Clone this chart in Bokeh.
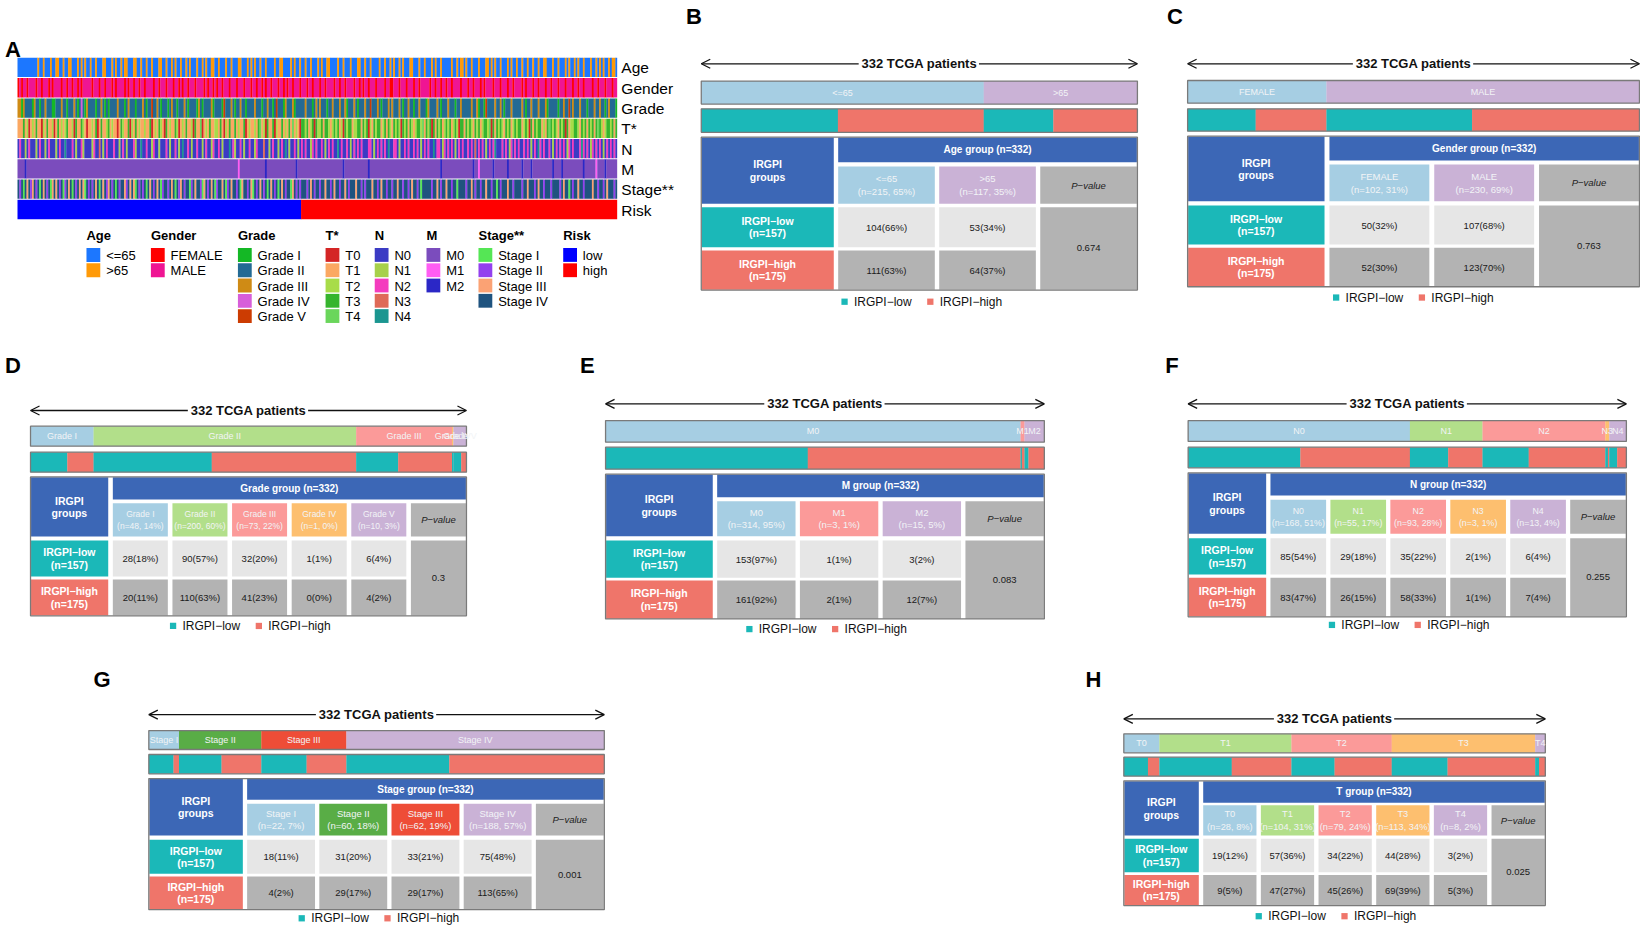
from bokeh.plotting import figure
from bokeh.models import Range1d, Arrow, OpenHead, ColumnDataSource
from bokeh.embed import file_html
from bokeh.resources import INLINE
from bokeh.core.properties import value

# ------------------------------------------------------------------ data
N_LOW, N_HIGH = 157, 175

age_levels = ["<=65", ">65"]
gender_levels = ["FEMALE", "MALE"]
grade_levels = ["Grade I", "Grade II", "Grade III", "Grade IV", "Grade V"]
t_levels = ["T0", "T1", "T2", "T3", "T4"]
n_levels = ["N0", "N1", "N2", "N3", "N4"]
m_levels = ["M0", "M1", "M2"]
stage_levels = ["Stage I", "Stage II", "Stage III", "Stage IV"]
risk_levels = ["low", "high"]

age_low, age_high, age_p = [104, 53], [111, 64], "0.674"
gender_low, gender_high, gender_p = [50, 107], [52, 123], "0.763"
grade_low, grade_high, grade_p = [28, 90, 32, 1, 6], [20, 110, 41, 0, 4], "0.3"
m_low, m_high, m_p = [153, 1, 3], [161, 2, 12], "0.083"
n_low, n_high, n_p = [85, 29, 35, 2, 6], [83, 26, 58, 1, 7], "0.255"
stage_low, stage_high, stage_p = [18, 31, 33, 75], [4, 29, 29, 113], "0.001"
t_low, t_high, t_p = [19, 57, 34, 44, 3], [9, 47, 45, 69, 5], "0.025"

# per-patient category codes (index into levels), low-risk patients then high-risk
age_codes = "".join([
    "0000000000", "0100100010", "0110010011", "0001010100", "1001000110", "0010100101",
    "1000110010", "0100100011", "0010010100", "1001010001", "0010100110", "0100010010",
    "0011000101", "0100100100", "0010011000", "0101001",
    "0010010001", "0100110000", "1001000100", "0110010010", "0001001001", "0100101000",
    "1100010010", "0010100100", "0001001011", "0100100010", "0011010100", "1000101001",
    "0010010010", "0100110001", "0010001010", "0101001000", "1001010100", "10110"])
gender_codes = "".join([
    "0101101111", "0110111010", "1111011011", "0110101111", "1011101101", "1101011110",
    "1011011011", "0111101101", "1101110110", "1011011101", "1110101101", "0110111011",
    "1011101110", "1101101011", "0111011010", "1101110",
    "1110110111", "0110111101", "1011011110", "1101011011", "1011110110", "0111011101",
    "1101101111", "1011011011", "0110111101", "1101101110", "1011110111", "0111011011",
    "1101011101", "1011101101", "1101110111", "0110110111", "1011011101", "11011"])
grade_codes = "".join([
    "2202111102", "1101121110", "0111211011", "1210131021", "1110112101", "0111121110",
    "1211101112", "1011411210", "1110121101", "1121011110", "2101111201", "1110411121",
    "0112110111", "1211101121", "1014111021", "1120111",
    "1121110121", "2111011211", "1211201112", "1011121141", "1121011121", "2111210112",
    "1101121110", "2111121011", "1211101121", "1111211201", "1041111211", "2101112111",
    "1121011211", "1211120111", "1101121141", "2111211101", "1121121101", "21110"])
t_codes = "".join([
    "1113120121", "3110213112", "0131212311", "2031132101", "1213013112", "3121101321",
    "1302131211", "2113012132", "1031211320", "1213112031", "1401213112", "2131021311",
    "3121130121", "1213412031", "1302113121", "3141210",
    "3323123032", "2313321232", "3120323312", "2331323021", "3233123132", "1323203231",
    "3212332413", "2303132312", "3231232033", "1323213231", "2332403132", "3213231232",
    "3312320313", "2331213432", "3213230312", "2332132313", "2313432123", "32313"])
n_codes = "".join([
    "0200102000", "1020010200", "0102004000", "2010021000", "0120030102", "0002001020",
    "1000210040", "0200120010", "0020100201", "0400201002", "0010200120", "0201000402",
    "1002010020", "0120003001", "0200102040", "1002010",
    "2020012020", "0201020200", "4020020102", "0202000220", "1020202040", "0220100202",
    "0020201020", "2004022012", "0202010202", "0020203020", "2010202400", "0202012020",
    "2002020102", "0420200201", "0202020120", "2000242020", "1202020102", "02020"])
m_codes = "".join([
    "0000200000", "0000000000", "0000000000", "0000000000", "0000000000", "0000000000",
    "0000000000", "0000000000", "0000000000", "0000000000", "0000000000", "0000000000",
    "0010000000", "0000000200", "0000000000", "0000200",
    "0000000000", "0000000000", "0002000000", "0000000200", "0000000000", "0000000000",
    "0000000000", "0000000200", "0000000000", "0000020010", "0000002000", "0000200000",
    "0020000200", "0000000002", "0000200000", "0000002000", "0001000020", "00000"])
stage_codes = "".join([
    "3130323123", "1303231302", "3231301323", "0313232031", "3132303231", "2313031332",
    "1323203131", "3032313230", "1331323031", "2313301323", "3102313230", "1332301323",
    "3130233132", "0313231303", "2313032313", "3023131",
    "3331323133", "1332331323", "3133231333", "2331313332", "3313233133", "1332331331",
    "3233130333", "3313323133", "2331330333", "3133231331", "3323313303", "1333233133",
    "3313323331", "3233133313", "3331323303", "1332331333", "3233133132", "33313"])
risk_codes = "0" * N_LOW + "1" * N_HIGH

# ------------------------------------------------------------------ style
FONT = "Liberation Sans"
TEAL, SALMON, BLUE = "#1bb8b8", "#ef756a", "#3c67b6"
LGRAY, DGRAY = "#e6e6e6", "#b3b3b3"
LIGHT = "#f2f4f6"
BORDER = "#7a7a7a"
PAL5 = ["#a6cee3", "#b2df8a", "#fb9a99", "#fdbf6f", "#cab2d6"]
PAL2 = ["#a6cee3", "#cab2d6"]
PAL3 = ["#a6cee3", "#fb9a99", "#cab2d6"]
PAL4S = ["#a6cee3", "#59ad46", "#ee4d37", "#cab2d6"]

age_cols = ["#1c77ff", "#ff9a08"]
gender_cols = ["#ff0000", "#ef1593"]
grade_cols = ["#14b825", "#236a94", "#cf8b15", "#d75ed9", "#cc3c02"]
t_cols = ["#d42525", "#fba862", "#a8dc49", "#36b52e", "#6ad65b"]
n_cols = ["#3b3bc4", "#a7d04b", "#f43cbe", "#df6a57", "#1b9690"]
m_cols = ["#7b4cbd", "#ff5df3", "#2b27c6"]
stage_cols = ["#55e655", "#9340ee", "#fba274", "#1f537f"]
risk_cols = ["#0000ff", "#ff0000"]

S = 1640 / 1568.0
p = figure(width=1640, height=926, x_range=Range1d(0, 1640 / S),
           y_range=Range1d(926 / S, 0), x_axis_type=None, y_axis_type=None,
           toolbar_location=None, output_backend="svg", min_border=0)
p.outline_line_color = None
p.background_fill_color = "white"
p.border_fill_color = "white"

fills = dict(left=[], right=[], top=[], bottom=[], color=[])
outl = dict(left=[], right=[], top=[], bottom=[])
texts = {}
arrows = []


def R(l, r, t, b, c):
    fills["left"].append(l); fills["right"].append(r)
    fills["top"].append(t); fills["bottom"].append(b); fills["color"].append(c)


def O(l, r, t, b):
    outl["left"].append(l); outl["right"].append(r)
    outl["top"].append(t); outl["bottom"].append(b)


def T(x, y, s, size, color="#111111", style="normal", align="center"):
    key = (size, color, style, align)
    d = texts.setdefault(key, ([], [], []))
    d[0].append(x); d[1].append(y); d[2].append(s)


def pct(a, b):
    return int(round(100.0 * a / b))


# ------------------------------------------------------------------ panel A
HX0, HX1 = 16.25, 589.6
HY0, HP, HH = 54.8, 19.4, 18.45
hrows = [("Age", age_codes, age_cols), ("Gender", gender_codes, gender_cols),
         ("Grade", grade_codes, grade_cols), ("T*", t_codes, t_cols),
         ("N", n_codes, n_cols), ("M", m_codes, m_cols),
         ("Stage**", stage_codes, stage_cols), ("Risk", risk_codes, risk_cols)]
for i, (lab, codes, cols) in enumerate(hrows):
    n = len(codes)
    w = (HX1 - HX0) / n
    top = HY0 + i * HP
    bot = top + HH
    j = 0
    while j < n:
        k = j
        while k < n and codes[k] == codes[j]:
            k += 1
        R(HX0 + j * w, min(HX0 + k * w + 0.25, HX1), top, bot, cols[int(codes[j])])
        j = k
    T(HX1 + 4, top + HH / 2 + 0.5, lab, "15.5px", "#000000", align="left")

legend_groups = [("Age", 82.2, age_levels, age_cols),
                 ("Gender", 143.8, gender_levels, gender_cols),
                 ("Grade", 227.0, grade_levels, grade_cols),
                 ("T*", 310.8, t_levels, t_cols),
                 ("N", 357.8, n_levels, n_cols),
                 ("M", 407.3, m_levels, m_cols),
                 ("Stage**", 457.0, stage_levels, stage_cols),
                 ("Risk", 538.0, risk_levels, risk_cols)]
for title, lx, levels, cols in legend_groups:
    T(lx, 224.7, title, "13px", "#000000", "bold", "left")
    for k, (lev, c) in enumerate(zip(levels, cols)):
        yc = 243.3 + 14.6 * k
        R(lx, lx + 13.2, yc - 6.6, yc + 6.6, c)
        T(lx + 18.8, yc + 0.5, lev, "13px", "#000000", align="left")


# ------------------------------------------------------------------ panels B-H
def panel(cfg, name, cats, low, high, pval, colors):
    x0, x1 = cfg["x"]
    nlo, nhi = sum(low), sum(high)
    tot = nlo + nhi
    W = x1 - x0
    cx = (x0 + x1) / 2
    ya = cfg["ya"]
    arrows.append((cx - 58, x0, ya))
    arrows.append((cx + 57, x1, ya))
    T(cx, ya, f"{tot} TCGA patients", "13px", "#111111", "bold")
    fb = cfg.get("fb", "9px")
    fh = cfg.get("fh", "9.5px")
    fd = cfg.get("fd", "9.5px")
    # bar of categories
    t, b = cfg["b1"]
    xs = x0
    for c, lo, hi, col in zip(cats, low, high, colors):
        w = W * (lo + hi) / tot
        R(xs, xs + w + 0.2, t, b, col)
        T(xs + w / 2, (t + b) / 2, c, fb, LIGHT)
        xs += w
    O(x0, x1, t, b)
    # bar of risk groups within categories
    t, b = cfg["b2"]
    xs = x0
    for lo, hi in zip(low, high):
        w1 = W * lo / tot
        w2 = W * hi / tot
        R(xs, xs + w1 + 0.2, t, b, TEAL)
        R(xs + w1, xs + w1 + w2 + 0.2, t, b, SALMON)
        xs += w1 + w2
    O(x0, x1, t, b)
    # table
    (g0, g1), (c0, c1), (l0, l1), (h0, h1) = cfg["rows"]
    lx, cs = cfg["lx"], cfg["cs"]
    gap = cs - lx
    nc = len(cats) + 1
    xr = x1 - 0.5
    cw = (xr - cs - gap * (nc - 1)) / nc
    lm = (x0 + lx) / 2
    R(x0 + 0.5, lx, g0, c1, BLUE)
    T(lm, (g0 + c1) / 2 - 6, "IRGPI", "10.5px", "white", "bold")
    T(lm, (g0 + c1) / 2 + 6, "groups", "10.5px", "white", "bold")
    R(x0 + 0.5, lx, l0, l1, TEAL)
    T(lm, (l0 + l1) / 2 - 6, "IRGPI\u2212low", "10.5px", "white", "bold")
    T(lm, (l0 + l1) / 2 + 6, f"(n={nlo})", "10.5px", "white", "bold")
    R(x0 + 0.5, lx, h0, h1, SALMON)
    T(lm, (h0 + h1) / 2 - 6, "IRGPI\u2212high", "10.5px", "white", "bold")
    T(lm, (h0 + h1) / 2 + 6, f"(n={nhi})", "10.5px", "white", "bold")
    R(cs, xr, g0, g1, BLUE)
    T((cs + xr) / 2, (g0 + g1) / 2, f"{name} group (n={tot})", "10px", "white", "bold")
    for i, (c, lo, hi, col) in enumerate(zip(cats, low, high, colors)):
        l = cs + i * (cw + gap)
        r = l + cw
        m = (l + r) / 2
        R(l, r, c0, c1, col)
        T(m, (c0 + c1) / 2 - 6, c, fh, LIGHT)
        T(m, (c0 + c1) / 2 + 6, f"(n={lo + hi}, {pct(lo + hi, tot)}%)", fh, LIGHT)
        R(l, r, l0, l1, LGRAY)
        T(m, (l0 + l1) / 2, f"{lo}({pct(lo, nlo)}%)", fd, "#1a1a1a")
        R(l, r, h0, h1, DGRAY)
        T(m, (h0 + h1) / 2, f"{hi}({pct(hi, nhi)}%)", fd, "#1a1a1a")
    l = cs + len(cats) * (cw + gap)
    m = (l + xr) / 2
    R(l, xr, c0, c1, DGRAY)
    T(m, (c0 + c1) / 2, "P\u2212value", fd, "#222222", "italic")
    R(l, xr, l0, h1, DGRAY)
    T(m, (l0 + h1) / 2, pval, fd, "#1a1a1a")
    O(x0, x1, g0 - 0.3, h1 + 0.3)
    # legend
    ly, lc = cfg["leg"]
    R(lc - 75, lc - 69, ly - 3, ly + 3, TEAL)
    T(lc - 63, ly, "IRGPI\u2212low", "12px", "#111111", align="left")
    R(lc + 7, lc + 13, ly - 3, ly + 3, SALMON)
    T(lc + 19, ly, "IRGPI\u2212high", "12px", "#111111", align="left")


cfgB = dict(x=(670, 1087), ya=60.5, b1=(77, 99), b2=(103.6, 126),
            rows=[(131, 154.6), (158.7, 194.4), (197.6, 235.8), (239, 276.6)],
            lx=796.7, cs=800.9, leg=(288, 879))
cfgC = dict(x=(1135, 1567), ya=60.5, b1=(76.5, 98.2), b2=(103.6, 124.9),
            rows=[(130, 153), (156.8, 191.9), (196, 233.3), (236.5, 273.4)],
            lx=1265.9, cs=1270.6, leg=(284, 1349))
cfgD = dict(x=(28.7, 445.5), ya=392, b1=(407, 426.1), b2=(431.8, 451),
            rows=[(455.8, 477.1), (480.6, 512.5), (516.3, 550.7), (553.6, 588)],
            lx=103, cs=107.4, leg=(598, 237), fh="8.5px")
cfgE = dict(x=(578.5, 998), ya=385.6, b1=(401.6, 422.3), b2=(427.1, 448.1),
            rows=[(453.2, 474.9), (478.7, 512.2), (516.3, 552), (554.5, 591)],
            lx=681, cs=685.2, leg=(601, 788))
cfgF = dict(x=(1135.5, 1554.5), ya=385.6, b1=(401.6, 421.6), b2=(427.1, 446.8),
            rows=[(451.9, 473.3), (477.4, 509.9), (514.1, 548.8), (552, 589)],
            lx=1210.1, cs=1214.2, leg=(597, 1345), fh="8.8px")
cfgG = dict(x=(141.8, 577.3), ya=682.7, b1=(698, 716.1), b2=(720.9, 739.4),
            rows=[(744.2, 764.2), (768.1, 798.4), (802.5, 835), (837.6, 869)],
            lx=231.7, cs=235.8, leg=(877.5, 360))
cfgH = dict(x=(1074, 1477), ya=686.8, b1=(701.1, 719.3), b2=(723.5, 741.6),
            rows=[(746.4, 767.1), (769.5, 798.4), (801.5, 833.4), (836, 865)],
            lx=1145.7, cs=1149.9, leg=(875.5, 1275), fh="9.3px")

panel(cfgB, "Age", age_levels, age_low, age_high, age_p, PAL2)
panel(cfgC, "Gender", gender_levels, gender_low, gender_high, gender_p, PAL2)
panel(cfgD, "Grade", grade_levels, grade_low, grade_high, grade_p, PAL5)
panel(cfgE, "M", m_levels, m_low, m_high, m_p, PAL3)
panel(cfgF, "N", n_levels, n_low, n_high, n_p, PAL5)
panel(cfgG, "Stage", stage_levels, stage_low, stage_high, stage_p, PAL4S)
panel(cfgH, "T", t_levels, t_low, t_high, t_p, PAL5)

# panel letters
for letter, lx, ly in [("A", 12, 47), ("B", 663, 15), ("C", 1123, 15), ("D", 12, 349),
                       ("E", 561, 349), ("F", 1120, 349), ("G", 97, 649), ("H", 1045, 649)]:
    T(lx, ly, letter, "22px", "#000000", "bold")

# ------------------------------------------------------------------ render
p.quad(left="left", right="right", top="top", bottom="bottom", fill_color="color",
       line_color=None, source=ColumnDataSource(fills))
p.quad(left="left", right="right", top="top", bottom="bottom", fill_color=None,
       line_color=BORDER, line_width=1.3, source=ColumnDataSource(outl))
for xs_, xe, y in arrows:
    p.add_layout(Arrow(end=OpenHead(size=9, line_width=1.3, line_color="#111111"),
                       x_start=xs_, y_start=y, x_end=xe, y_end=y,
                       line_width=1.3, line_color="#111111"))
for (size, color, style, align), (xs_, ys_, ts_) in texts.items():
    p.text(x=xs_, y=ys_, text=ts_, text_font=value(FONT), text_font_size=value(size),
           text_color=color, text_font_style=value(style), text_align=value(align),
           text_baseline=value("middle"))

open("out.html", "w").write(file_html(p, INLINE))
